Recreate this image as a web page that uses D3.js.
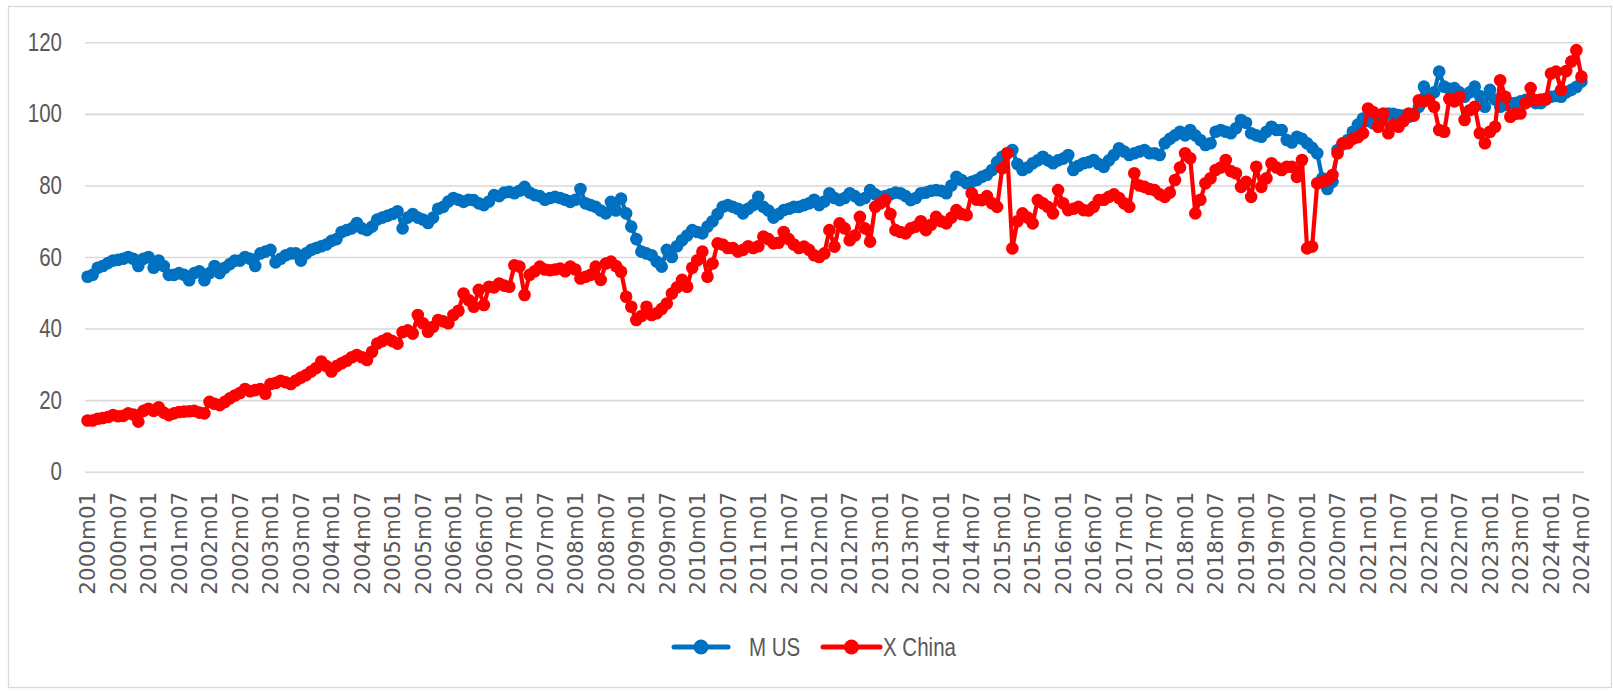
<!DOCTYPE html>
<html>
<head>
<meta charset="utf-8">
<script src="https://cdn.jsdelivr.net/npm/d3@7"></script>
<style>
  html, body { margin: 0; padding: 0; background: #fff; }
  svg { display: block; }
  .ylab, .leg { font-family: "Liberation Sans", Arial, sans-serif; fill: #595959; }
  .xlab { font-family: "DejaVu Sans", Verdana, sans-serif; fill: #595959; }
</style>
</head>
<body>
<svg id="chart" width="1613" height="691"></svg>
<script>
// ---- data ----
const startYear = 2000;
const nMonths = 295; // 2000m01 .. 2024m07
const categories = d3.range(nMonths).map(i => {
  const y = startYear + Math.floor(i / 12), m = (i % 12) + 1;
  return y + "m" + (m < 10 ? "0" + m : m);
});
const yTicks = [0, 20, 40, 60, 80, 100, 120];

const mUS = [
  54.5, 55, 57, 57.5, 58.3, 59, 59.2, 59.5, 60, 59.5, 57.5, 59.5,
  60, 57, 59, 57.5, 55, 55, 55.5, 55, 53.5, 55.5, 56, 53.5,
  55.5, 57.5, 55.5, 57, 58, 59, 59, 60, 59.5, 57.5, 61, 61.5,
  62, 58.5, 59.5, 60.5, 61, 61, 59, 61, 62, 62.5, 63, 63.5,
  64.5, 65, 67, 67.5, 68, 69.5, 68, 67.5, 68.5, 70.5, 71, 71.5,
  72, 72.8, 68, 71, 72, 71, 70.5, 69.5, 71, 73.5, 74, 75.5,
  76.5, 76, 75.4, 76, 75.9, 75, 74.5, 75.5, 77.3, 77, 78, 78.2,
  77.8, 78.5, 79.6, 78, 77.3, 77, 76, 76.5, 76.8, 76.5, 76, 75.4,
  76, 79, 75, 74.5, 74, 73, 72.2, 75.4, 73, 76.3, 72.2, 68.5,
  65, 61.5, 61, 60.5, 58.7, 57.3, 62, 60, 63, 64.7, 66, 67.5,
  67, 66.6, 68.5, 70, 72, 74, 74.5, 74, 73.5, 72.2, 73.5, 74.5,
  76.8, 74, 73, 71, 72, 73.1, 73.5, 74, 74, 74.5, 75, 76,
  74.5, 75.5, 77.8, 76.5, 75.9, 76.5, 77.8, 77, 75.9, 76.5, 78.7, 77.5,
  76.8, 77, 77.5, 78, 77.8, 77, 75.9, 76.5, 77.8, 78, 78.5, 78.7,
  78.5, 77.8, 80, 82.4, 81.5, 80.6, 81, 81.5, 82.4, 83, 84.3, 86.5,
  88, 89, 89.9, 86, 84.3, 85, 86.2, 87, 88, 87, 86.2, 87,
  87.5, 88.5, 84.3, 85.5, 86.2, 86.5, 87.1, 86, 85.2, 87, 88.5, 90.4,
  89.5, 88.5, 89, 89.5, 89.9, 89, 89, 88.5, 91.8, 93, 94, 95,
  94, 95.5, 94, 92.7, 91.3, 91.8, 95, 95.5, 95, 94.6, 96, 98.3,
  97.5, 94.6, 94, 93.6, 95, 96.4, 95.5, 95.5, 92.7, 92, 93.6, 93,
  91.8, 90.5, 89, 82, 79, 81, 89.9, 91.5, 92.7, 95, 97, 98.7,
  98, 97.4, 98, 99, 100.1, 100, 99.7, 99.5, 99.2, 100, 102, 107.6,
  104.8, 106, 111.8, 107.6, 107, 107.2, 106, 104.8, 106, 107.6, 105, 102,
  106.7, 104, 102, 102.5, 103, 103, 103.5, 103.9, 104, 103, 103, 104,
  104.8, 105, 104.8, 106, 106.7, 107.5, 109
];

const xChina = [
  14.3, 14.3, 14.8, 15, 15.3, 15.8, 15.5, 15.6, 16.3, 16, 14, 17,
  17.6, 17, 18, 16.5, 15.8, 16.3, 16.7, 16.8, 16.9, 17, 16.5, 16.3,
  19.5, 19, 18.6, 19.5, 20.5, 21.3, 22, 23.1, 22.5, 22.8, 23.1, 21.8,
  24.5, 24.8, 25.4, 25, 24.5, 25.5, 26.3, 27, 28, 29, 30.8, 29.5,
  28, 29.5, 30.3, 31, 32, 32.6, 32, 31.2, 33.5, 35.8, 36.5, 37.2,
  36.5, 35.8, 39, 39.5, 38.6, 43.8, 41.5, 39.1, 40.5, 42.4, 42, 41.5,
  43.8, 45, 49.8, 48, 46.1, 50.8, 46.6, 51.7, 51.5, 52.6, 52, 51.7,
  57.7, 57.3, 49.4, 55, 56, 57.3, 56.5, 56.3, 56.5, 56.8, 56, 57.3,
  56.5, 54, 54.5, 55, 57.3, 53.6, 58.2, 58.7, 57.5, 55.9, 48.9, 46.1,
  42.4, 43.5, 46.1, 43.8, 44.3, 45.5, 47, 49.8, 51.5, 53.6, 51.7, 57,
  59.1, 61.5, 54.5, 58.2, 63.8, 63.5, 62.5, 62.5, 61.5, 62, 63, 62.5,
  63, 65.7, 65, 63.8, 64, 67, 65, 63.5, 62.5, 62.9, 62, 60.5,
  60, 61, 67.5, 62.9, 69.4, 68, 64.7, 66, 71.2, 68, 64.3, 74,
  75, 75.9, 72, 67.5, 67, 66.6, 68, 68.5, 70, 67.5, 69, 71.2,
  70, 69.4, 71, 73.1, 72, 71.7, 77.8, 76, 75.9, 77, 75, 74,
  84.8, 89, 62.4, 70, 72.2, 71, 69.4, 75.9, 75, 74, 72.2, 78.7,
  75, 73.1, 73.5, 74, 73.1, 73, 74, 75.9, 76, 76.8, 77.5, 76.5,
  75, 74, 83.4, 80, 79.6, 79, 78.7, 77.5, 76.8, 78, 81.5, 85,
  89, 87.6, 72.2, 76, 80.6, 82, 84.3, 85, 87.1, 84, 83.4, 79.6,
  81, 76.8, 85.2, 79.6, 82, 86.2, 85, 84.3, 85.2, 85.2, 82.4, 87.1,
  62.4, 62.9, 80.6, 81, 81.5, 82.9, 89, 91.8, 91.8, 93, 93.5, 94.6,
  101.5, 100.5, 96.4, 100.1, 94.6, 97, 96.4, 98, 100.1, 99.5, 103.8, 103.5,
  103.8, 102, 95.5, 95, 104.2, 103.5, 104.8, 98.3, 101, 102, 94.6, 91.8,
  95, 96.4, 109.4, 104.8, 99.2, 100, 100.1, 103, 107.2, 103.8, 104, 104.2,
  111.3, 111.8, 106.7, 112, 114.6, 117.8, 110.4
];

const seriesNames = ["M US", "X China"];
const seriesColors = ["#0070C0", "#FF0000"];

// ---- layout ----
const svg = d3.select("#chart");
const plot = { left: 85, right: 1584, top: 42.3, bottom: 471.7 };
const narrow = 0.82; // horizontal squeeze to mimic a narrow UI font

svg.append("rect").attr("x", 8.5).attr("y", 6.5).attr("width", 1603).attr("height", 681)
  .attr("fill", "#fff").attr("stroke", "#d9d9d9").attr("stroke-width", 1.3);

const x = d3.scaleBand().domain(categories).range([plot.left, plot.right]).padding(0);
const xc = c => x(c) + x.bandwidth() / 2;
const y = d3.scaleLinear().domain([0, 120]).range([plot.bottom, plot.top]);

// gridlines + y labels
const yAxis = d3.axisLeft(y).tickValues(yTicks).tickSize(-(plot.right - plot.left)).tickPadding(23).tickFormat(d3.format("d"));
const gy = svg.append("g").attr("transform", `translate(${plot.left},0)`).call(yAxis);
gy.select(".domain").remove();
gy.selectAll(".tick line").attr("stroke", "#d9d9d9").attr("stroke-width", 1.6);
gy.selectAll(".tick text").attr("class", "ylab").attr("font-size", 25).attr("fill", "#595959")
  .attr("x", -23 / narrow).attr("transform", `scale(${narrow},1)`);

// x labels
const tickCats = categories.filter((c, i) => i % 6 === 0);
const xAxis = d3.axisBottom(x).tickValues(tickCats).tickSize(0).tickPadding(0);
const gx = svg.append("g").attr("transform", `translate(0,${plot.bottom})`).call(xAxis);
gx.select(".domain").remove();
gx.selectAll(".tick text")
  .attr("class", "xlab")
  .attr("font-size", 21.5)
  .attr("fill", "#595959")
  .attr("text-anchor", "end")
  .attr("transform", "translate(0,20) rotate(-90)")
  .attr("x", 0).attr("y", 0).attr("dy", "0.36em");

// series
const seriesData = [mUS, xChina];
const line = d3.line().x((d, i) => xc(categories[i])).y(d => y(d));
seriesData.forEach((vals, s) => {
  const g = svg.append("g");
  g.append("path").datum(vals).attr("d", line).attr("fill", "none")
    .attr("stroke", seriesColors[s]).attr("stroke-width", 4.2).attr("stroke-linejoin", "round");
  g.selectAll("circle").data(vals).join("circle")
    .attr("cx", (d, i) => xc(categories[i])).attr("cy", d => y(d)).attr("r", 6.3)
    .attr("fill", seriesColors[s]);
});

// legend
const legend = [
  { x1: 674, x2: 728, tx: 749 },
  { x1: 823, x2: 880, tx: 883 }
];
const ly = 647;
legend.forEach((L, s) => {
  const g = svg.append("g");
  g.append("line").attr("x1", L.x1).attr("x2", L.x2).attr("y1", ly).attr("y2", ly)
    .attr("stroke", seriesColors[s]).attr("stroke-width", 5).attr("stroke-linecap", "round");
  g.append("circle").attr("cx", (L.x1 + L.x2) / 2).attr("cy", ly).attr("r", 7.5).attr("fill", seriesColors[s]);
  g.append("text").attr("class", "leg")
    .attr("transform", `translate(${L.tx},${ly}) scale(${narrow},1)`)
    .attr("dy", "0.36em")
    .attr("font-size", 25).text(seriesNames[s]);
});
</script>
</body>
</html>
